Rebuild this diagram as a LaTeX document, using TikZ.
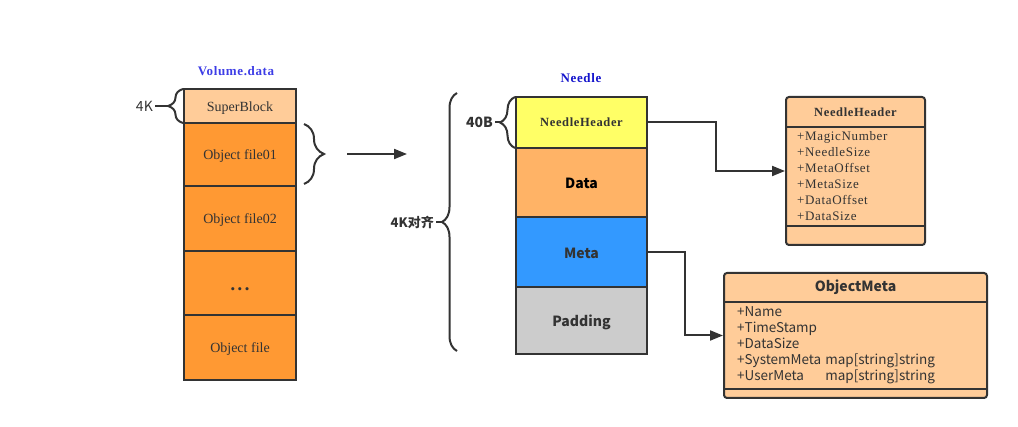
\documentclass[tikz,border=0pt]{standalone}
\usepackage{fontspec}
\setmainfont{Liberation Serif}
\setsansfont{Noto Sans CJK SC}
\usepackage{tikz}
\usetikzlibrary{positioning, arrows.meta, decorations.pathreplacing}
\definecolor{lineGray}{HTML}{333333}
\definecolor{superFill}{HTML}{FFCC99}
\definecolor{fileFill}{HTML}{FF9933}
\definecolor{hdrFill}{HTML}{FFFF66}
\definecolor{dataFill}{HTML}{FFB366}
\definecolor{metaFill}{HTML}{3399FF}
\definecolor{padFill}{HTML}{CCCCCC}
\definecolor{classFill}{HTML}{FFCC99}
\definecolor{volBlue}{HTML}{3D3DE6}
\definecolor{needleBlue}{HTML}{1414CC}
\newcommand{\spaced}{\addfontfeature{LetterSpace=5}}
\tikzset{
    >={Triangle[length=13pt, width=10pt]}, % filled arrow heads
    every node/.style={text=lineGray}, % dark gray text everywhere
    cell/.style={draw=lineGray, line width=2pt, inner sep=0pt, outer sep=0pt, text height=10.5pt, text depth=0pt, font=\fontsize{14}{16}\selectfont}, % one block of a stack
    volCell/.style={cell, minimum width=112pt},
    needleCell/.style={cell, minimum width=131pt, text height=12.2pt, font=\sffamily\bfseries\fontsize{14}{16}\selectfont},
    brace/.style={draw=lineGray, line width=2pt, decorate, decoration={brace, amplitude=#1}},
    sideLabel/.style={font=\sffamily\fontsize{14}{16}\selectfont, inner sep=2pt},
    link/.style={draw=lineGray, line width=2pt, ->},
    classBox/.style={draw=lineGray, line width=2pt, fill=classFill, rounded corners=3pt, inner sep=0pt},
    title/.style={font=\bfseries\spaced\fontsize{13}{15}\selectfont},
}
\begin{document}
\begin{tikzpicture}[x=1pt, y=-1pt]
\useasboundingbox (0,0) rectangle (1018,427);

% Volume.data stack
\node[title, text=volBlue] (volTitle) at (236,71) {Volume.data};
\node[volCell, fill=superFill, minimum height=34pt] (super) at (240,106) {SuperBlock};
\node[volCell, fill=fileFill, minimum height=63pt, below=0pt of super] (file01) {Object file01};
\node[volCell, fill=fileFill, minimum height=65pt, below=0pt of file01] (file02) {Object file02};
\node[volCell, fill=fileFill, minimum height=64pt, below=0pt of file02] (dots) {\raisebox{-5.5pt}{\fontsize{13}{15}\selectfont\textbullet\hspace{2.5pt}\textbullet\hspace{2.5pt}\textbullet}};
\node[volCell, fill=fileFill, minimum height=65pt, below=0pt of dots] (fileN) {Object file};

\draw[brace=15pt] ([xshift=-1pt]super.south west) -- ([xshift=-1pt]super.north west);
\coordinate (kTip) at ([xshift=-16pt]super.west);
\node[sideLabel, left=13pt of kTip] (kLabel) {4K};
\draw[draw=lineGray, line width=2pt] (kLabel) -- (kTip);

\draw[brace=20pt] ([xshift=8pt, yshift=-1pt]file01.north east) -- ([xshift=8pt, yshift=2pt]file01.south east);
\coordinate (moveFrom) at (347,154);
\coordinate (moveTo) at (407,154);
\draw[link] (moveFrom) -- (moveTo);

% Needle stack
\node[title, text=needleBlue] (needleTitle) at (581,78) {Needle};
\node[needleCell, fill=hdrFill, minimum height=51pt, text height=8.8pt, font=\bfseries\spaced\fontsize{12.5}{14}\selectfont] (hdr) at (581.5,122.5) {NeedleHeader};
\node[needleCell, fill=dataFill, minimum height=69pt, below=0pt of hdr, text=black] (data) {Data};
\node[needleCell, fill=metaFill, minimum height=70pt, below=0pt of data] (meta) {Meta};
\node[needleCell, fill=padFill, minimum height=67pt, below=0pt of meta] (pad) {Padding};

\draw[brace=15pt] (515,148) -- (515,97);
\coordinate (bTip) at (500,122.5);
\node[sideLabel, font=\sffamily\bfseries\fontsize{14}{16}\selectfont, left=5pt of bTip] (bLabel) {40B};
\draw[draw=lineGray, line width=2pt] (bLabel) -- (bTip);

\draw[brace=15pt] (457,351) -- (457,93);
\coordinate (alignTip) at (442,222);
\node[sideLabel, font=\sffamily\bfseries\fontsize{13}{15}\selectfont, left=6pt of alignTip] (alignLabel) {4K对齐};
\draw[draw=lineGray, line width=2pt] (alignLabel) -- (alignTip);

% class boxes
\node[classBox, minimum width=139pt, minimum height=148pt] (hdrClass) at (855.5,171) {};
\draw[draw=lineGray, line width=2pt] (hdrClass.west |- 0,127) -- (hdrClass.east |- 0,127);
\draw[draw=lineGray, line width=2pt] (hdrClass.west |- 0,226) -- (hdrClass.east |- 0,226);
\node[title, font=\bfseries\spaced\fontsize{12.5}{14}\selectfont] (hdrClassName) at (855.5,112) {NeedleHeader};
\node[anchor=north west, align=left, inner sep=0pt, font=\spaced\fontsize{13}{16}\selectfont] (hdrFields) at (797,131.5)
    {+MagicNumber\\+NeedleSize\\+MetaOffset\\+MetaSize\\+DataOffset\\+DataSize};

\node[classBox, minimum width=263pt, minimum height=125pt] (metaClass) at (855.5,335.5) {};
\draw[draw=lineGray, line width=2pt] (metaClass.west |- 0,302) -- (metaClass.east |- 0,302);
\draw[draw=lineGray, line width=2pt] (metaClass.west |- 0,389) -- (metaClass.east |- 0,389);
\node[font=\sffamily\bfseries\fontsize{14}{16}\selectfont] (metaClassName) at (855.5,287) {ObjectMeta};
\node[anchor=north west, inner sep=0pt, font=\sffamily\fontsize{13.5}{16}\selectfont] (metaFields) at (737,305)
    {\begin{tabular}{@{}l@{\hspace{4pt}}l@{}}
     +Name & \\ +TimeStamp & \\ +DataSize & \\
     +SystemMeta & map[string]string \\ +UserMeta & map[string]string
     \end{tabular}};

% links
\draw[link] (hdr.east) -- ++(69,0) |- (hdrClass.west);
\draw[link] (meta.east) -- ++(38,0) |- (metaClass.west);
\end{tikzpicture}
\end{document}
